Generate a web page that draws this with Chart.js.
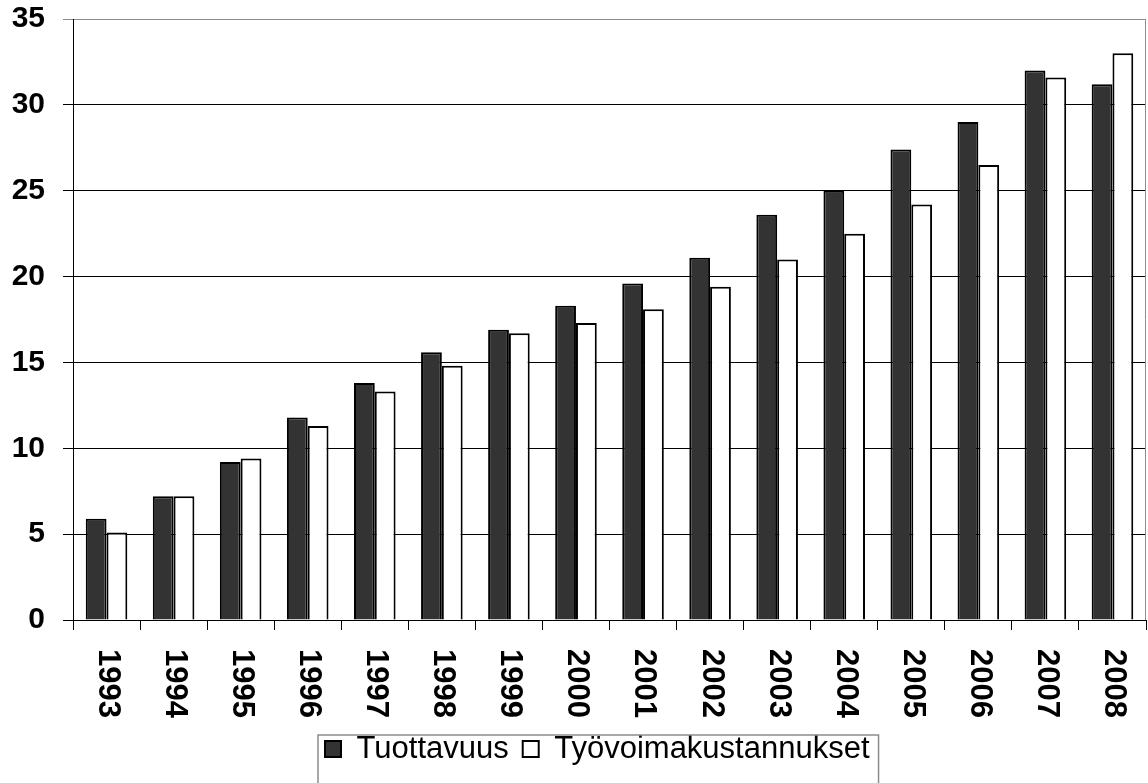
<!DOCTYPE html>
<html>
<head>
<meta charset="utf-8">
<script src="https://cdn.jsdelivr.net/npm/chart.js@4.4.1/dist/chart.umd.min.js"></script>
<style>
  html, body { margin: 0; padding: 0; background: #fff; }
  #wrap { width: 1148px; height: 783px; }
</style>
</head>
<body>
<div id="wrap"><canvas id="chart"></canvas></div>
<script>
// years on the x axis
const years = ['1993', '1994', '1995', '1996', '1997', '1998', '1999', '2000',
  '2001', '2002', '2003', '2004', '2005', '2006', '2007', '2008'];
// series values
const tuottavuus = [5.9, 7.2, 9.2, 11.8, 13.8, 15.6, 16.9, 18.3, 19.6, 21.1, 23.6, 25.0, 27.4, 29.0, 32.0, 31.2];
const tyovoimakustannukset = [5.1, 7.2, 9.4, 11.3, 13.3, 14.8, 16.7, 17.3, 18.1, 19.4, 21.0, 22.5, 24.2, 26.5, 31.6, 33.0];
const yTicks = [0, 5, 10, 15, 20, 25, 30, 35];

const FONT = 'Arial, "Liberation Sans", sans-serif';

// legend sits a bit right of centre in the original, its text centred at y 749
const legendStartX = 325;
const legendTextY = 749;

const extras = {
  id: 'extras',
  afterUpdate(chart) {
    const lg = chart.legend;
    const hb = lg.legendHitBoxes;
    if (!hb || !hb.length) return;
    const p = lg.options.labels.padding;
    const dx = legendStartX - hb[0].left;
    const dy = (legendTextY - p - lg.options.labels.font.size / 2) - lg.top;
    lg.left += dx;
    lg.right += dx;
    lg.top += dy;
    lg.bottom += dy;
    hb.forEach(b => { b.left += dx; b.top += dy; });
  },
  afterDraw(chart) {
    const ctx = chart.ctx;
    const area = chart.chartArea;
    const xs = chart.scales.x;
    ctx.save();
    // right border of the plot
    ctx.strokeStyle = '#8c8c8c';
    ctx.lineWidth = 1;
    ctx.beginPath();
    ctx.moveTo(area.right - 0.5, area.top);
    ctx.lineTo(area.right - 0.5, area.bottom);
    ctx.stroke();

    // year labels, reading top to bottom
    ctx.fillStyle = '#000';
    ctx.font = 'bold 31px ' + FONT;
    ctx.textAlign = 'left';
    ctx.textBaseline = 'middle';
    years.forEach((y, i) => {
      const px = xs.getPixelForValue(i);
      ctx.save();
      ctx.translate(px + 1, area.bottom + 29);
      ctx.rotate(Math.PI / 2);
      ctx.fillText(y, 0, 0);
      ctx.restore();
    });

    // frame around the legend
    const hb = chart.legend.legendHitBoxes;
    if (hb && hb.length) {
      const first = hb[0], last = hb[hb.length - 1];
      const left = first.left - 7;
      const right = last.left + last.width + 9;
      const top = legendTextY - 14;
      ctx.strokeStyle = '#8c8c8c';
      ctx.lineWidth = 1.5;
      ctx.strokeRect(left, top, right - left, 100);
    }
    ctx.restore();
  }
};

new Chart(document.getElementById('chart'), {
  type: 'bar',
  data: {
    labels: years,
    datasets: [
      {
        label: 'Tuottavuus',
        data: tuottavuus,
        backgroundColor: '#333333',
        borderColor: '#000000',
        borderWidth: 2,
        categoryPercentage: 0.62,
        barPercentage: 1.0
      },
      {
        label: 'Työvoimakustannukset',
        data: tyovoimakustannukset,
        backgroundColor: '#ffffff',
        borderColor: '#000000',
        borderWidth: 2,
        categoryPercentage: 0.62,
        barPercentage: 1.0
      }
    ]
  },
  options: {
    responsive: true,
    maintainAspectRatio: false,
    animation: false,
    layout: { padding: { top: 19, right: 2, left: 0, bottom: 0 } },
    plugins: {
      tooltip: { enabled: false },
      legend: {
        position: 'bottom',
        labels: {
          color: '#000',
          font: { family: FONT, size: 31 },
          boxWidth: 16,
          boxHeight: 16,
          padding: 14
        }
      }
    },
    scales: {
      x: {
        grid: {
          offset: true,
          drawOnChartArea: false,
          tickLength: 10,
          color: '#000'
        },
        border: { color: '#000', width: 1 },
        ticks: { display: false },
        afterFit(scale) { scale.height = 108; }
      },
      y: {
        min: 0,
        max: 35,
        afterBuildTicks(scale) { scale.ticks = yTicks.map(v => ({ value: v })); },
        grid: {
          color: (c) => c.tick && c.tick.value === 35 ? '#8c8c8c' : '#000',
          lineWidth: 1,
          tickLength: 10
        },
        border: { color: '#000', width: 1 },
        ticks: {
          color: '#000',
          font: { family: FONT, size: 30, weight: 'bold' },
          padding: 18
        },
        afterFit(scale) {
          scale.width = 73;
          scale.paddingTop = 0;
          scale.paddingBottom = 0;
        }
      }
    }
  },
  plugins: [extras]
});
</script>
</body>
</html>
